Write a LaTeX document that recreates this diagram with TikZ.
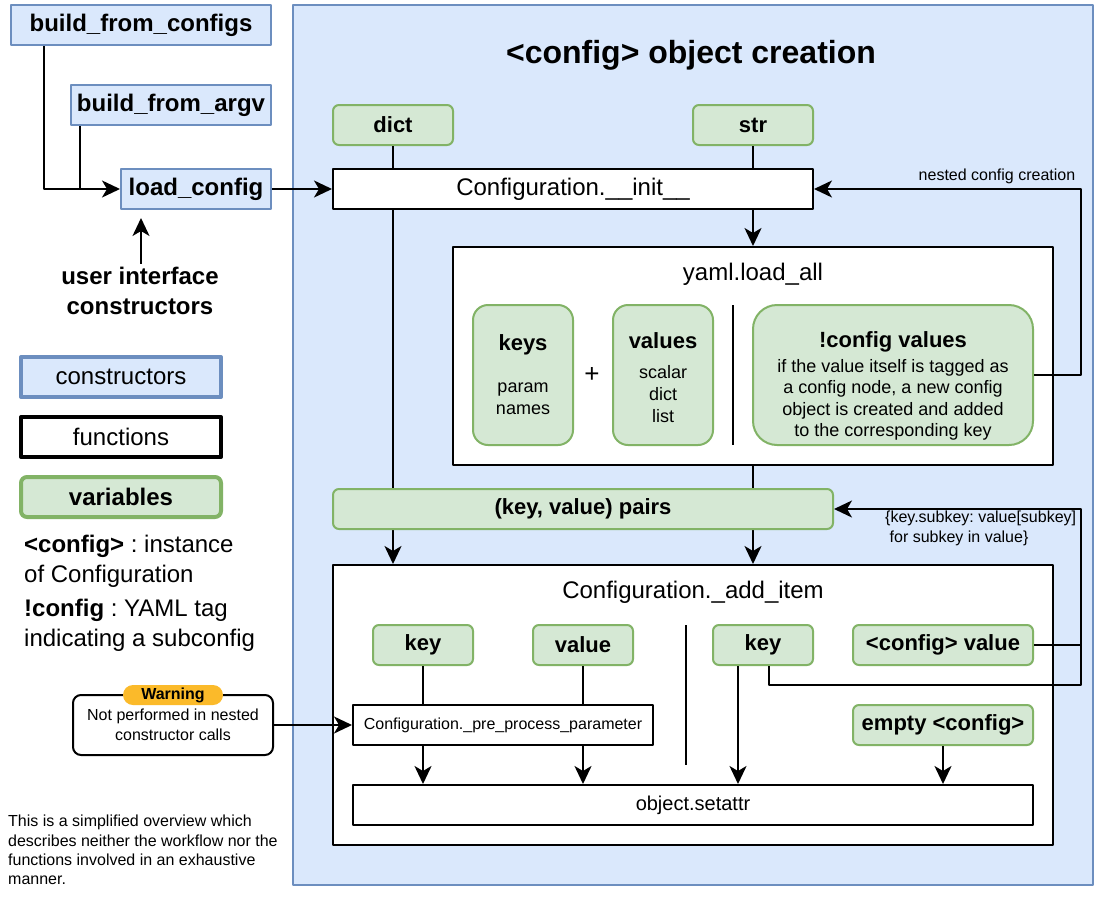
\documentclass[tikz,border=0pt]{standalone}
\usepackage{fontspec}
\setmainfont{Liberation Sans}
\usetikzlibrary{arrows.meta}
\definecolor{ctorfill}{HTML}{DAE8FC}
\definecolor{ctorline}{HTML}{6C8EBF}
\definecolor{varfill}{HTML}{D5E8D4}
\definecolor{varline}{HTML}{82B366}
\definecolor{warnfill}{HTML}{FBBA2A}
\frenchspacing
\begin{document}
\begin{tikzpicture}[>={Stealth[length=18pt,width=17pt,inset=5pt]}, x=1pt, y=-1pt, line join=round,
    ctor/.style={draw=ctorline, fill=ctorfill, line width=2pt, inner sep=0pt, font=\fontsize{24}{29}\selectfont\bfseries},
    func/.style={draw=black, fill=white, line width=2pt, inner sep=0pt, font=\fontsize{24}{29}\selectfont},
    var/.style={draw=varline, fill=varfill, line width=2pt, rounded corners=6pt, inner sep=0pt, font=\fontsize{22}{26}\selectfont\bfseries},
    link/.style={line width=2pt},
    lbl/.style={inner sep=0pt, font=\fontsize{16}{19}\selectfont}]
    \useasboundingbox (0,0) rectangle (1102,902);
    % constructors on the left
    \node[ctor, minimum width=260pt, minimum height=40pt] (bfc) at (141,25) {build\_from\_configs};
    \node[ctor, minimum width=200pt, minimum height=40pt] (bfa) at (171,105) {build\_from\_argv};
    \node[ctor, minimum width=150pt, minimum height=40pt] (lc) at (196,189) {load\_config};
    \node[inner sep=0pt, align=center, font=\fontsize{24}{30}\selectfont\bfseries] (uic) at (140,291) {user interface\\constructors};
    \draw[link,->] ([xshift=34pt]bfc.south west) |- (lc.west);
    \draw[link] ([xshift=10pt]bfa.south west) -- ([xshift=10pt]bfa.south west |- lc.west);
    \draw[link,->,shorten <=3pt,shorten >=8pt] ([xshift=1pt]uic.north) -- ([xshift=1pt]uic.north |- lc.south);
    % legend
    \node[ctor, line width=4pt, font=\fontsize{24}{29}\selectfont, minimum width=200pt, minimum height=40pt] (lgc) at (121,377) {constructors};
    \node[func, line width=4pt, minimum width=200pt, minimum height=40pt] (lgf) at (121,437) {functions};
    \node[var, line width=4pt, font=\fontsize{24}{29}\selectfont\bfseries, minimum width=200pt, minimum height=40pt] (lgv) at (121,497) {variables};
    \node[inner sep=0pt, anchor=west, align=left, font=\fontsize{24}{30}\selectfont] (defcfg) at (24,561) {{\bfseries <config>} : instance\\of Configuration};
    \node[inner sep=0pt, anchor=west, align=left, font=\fontsize{24}{30}\selectfont] (deftag) at (24,625) {{\bfseries !config} : YAML tag\\indicating a subconfig};
    % warning and note
    \node[draw, line width=2pt, fill=white, rounded corners=8pt, minimum width=200pt, minimum height=60pt, align=center, font=\fontsize{16}{20}\selectfont] (warn) at (173,725) {Not performed in nested\\constructor calls};
    \node[fill=warnfill, rounded corners=10pt, minimum width=100pt, minimum height=20pt, inner sep=0pt, font=\fontsize{16}{19}\selectfont\bfseries] (badge) at (173,695) {Warning};
    \node[inner sep=0pt, anchor=west, align=left, font=\fontsize{16}{19.3}\selectfont] (note) at (8,850) {This is a simplified overview which\\describes neither the workflow nor the\\functions involved in an exhaustive\\manner.};
    % object creation panel
    \node[draw=ctorline, fill=ctorfill, line width=2pt, minimum width=800pt, minimum height=880pt] (panel) at (693,445) {};
    \node[inner sep=0pt, font=\fontsize{32}{38}\selectfont\bfseries] (title) at (691,55) {<config> object creation};
    \node[var, minimum width=120pt, minimum height=40pt] (dict) at (393,125) {dict};
    \node[var, minimum width=120pt, minimum height=40pt] (str) at (753,125) {str};
    \node[func, minimum width=480pt, minimum height=40pt] (init) at (573,189) {Configuration.\_\_init\_\_};
    \draw[link] (dict.south) -- (dict.south |- init.north);
    \draw[link] (str.south) -- (str.south |- init.north);
    \draw[link,->] (lc.east) -- (init.west);
    % yaml.load_all
    \node[func, minimum width=600pt, minimum height=218pt] (yaml) at (753,356) {};
    \node[inner sep=0pt, font=\fontsize{24}{29}\selectfont] (yamlname) at (753,274) {yaml.load\_all};
    \draw[link,->] (yaml.north |- init.south) -- (yaml.north);
    \node[var, rounded corners=15pt, minimum width=100pt, minimum height=140pt, align=center, font=\fontsize{18}{22}\selectfont] (keys) at (523,375)
        {{\fontsize{22}{26}\selectfont\bfseries keys}\\[20pt]param\\names};
    \node[inner sep=0pt, font=\fontsize{26}{30}\selectfont] (plus) at (592,375) {+};
    \node[var, rounded corners=15pt, minimum width=100pt, minimum height=140pt] (values) at (663,375) {};
    \node[inner sep=0pt, align=center, font=\fontsize{18}{22}\selectfont] (valtext) at (663,378)
        {{\fontsize{22}{26}\selectfont\bfseries values}\\[8pt]scalar\\dict\\list};
    \draw[link] (733,305) -- (733,445);
    \node[var, rounded corners=24pt, minimum width=280pt, minimum height=140pt] (cfgvals) at (893,375) {};
    \node[inner sep=0pt, align=center, font=\fontsize{18}{21.5}\selectfont] (cfgtext) at (893,386)
        {{\fontsize{22}{26}\selectfont\bfseries !config values}\\[3pt]if the value itself is tagged as\\a config node, a new config\\object is created and added\\to the corresponding key};
    \coordinate (nest) at (1081,189);
    \draw[link,->] (cfgvals.east) -| (nest) -- (init.east);
    \node[lbl] (nestlbl) at (997,176) {nested config creation};
    % Configuration._add_item
    \node[func, minimum width=720pt, minimum height=280pt] (add) at (693,705) {};
    \node[inner sep=0pt, font=\fontsize{24}{29}\selectfont] (addname) at (693,592) {Configuration.\_add\_item};
    \draw[link,->] (dict.south |- init.south) -- (dict.south |- add.north);
    \draw[link,->] (yaml.south) -- (yaml.south |- add.north);
    \node[var, minimum width=500pt, minimum height=40pt] (pairs) at (583,509) {(key, value) pairs};
    \node[var, minimum width=100pt, minimum height=40pt] (key) at (423,645) {key};
    \node[var, minimum width=100pt, minimum height=40pt] (val) at (583,645) {value};
    \node[var, minimum width=100pt, minimum height=40pt] (subkey) at (763,645) {key};
    \node[var, minimum width=180pt, minimum height=40pt] (cval) at (943,645) {<config> value};
    \draw[link] (686,625) -- (686,765);
    \node[func, minimum width=300pt, minimum height=40pt, font=\fontsize{16}{19}\selectfont] (pre) at (503,725) {Configuration.\_pre\_process\_parameter};
    \node[var, minimum width=180pt, minimum height=40pt] (empty) at (943,725) {empty <config>};
    \node[func, minimum width=680pt, minimum height=40pt, font=\fontsize{20}{24}\selectfont] (setattr) at (693,805) {object.setattr};
    \draw[link] (key.south) -- (key.south |- pre.north);
    \draw[link] (val.south) -- (val.south |- pre.north);
    \draw[link,->] (key.south |- pre.south) -- (key.south |- setattr.north);
    \draw[link,->] (val.south |- pre.south) -- (val.south |- setattr.north);
    \draw[link,->] ([xshift=-25pt]subkey.south) -- ([xshift=-25pt]subkey.south |- setattr.north);
    \draw[link,->] (empty.south) -- (empty.south |- setattr.north);
    \draw[link,->] (warn.east) -- (pre.west);
    % nested dict flattening
    \coordinate (flatlow) at (1081,685);
    \coordinate (flattop) at (1081,509);
    \draw[link,->] ([xshift=6pt]subkey.south) |- (flatlow) -- (flattop) -- (pairs.east);
    \draw[link] (cval.east) -- (cval.east -| flatlow);
    \node[lbl, anchor=west, align=left, font=\fontsize{16}{20}\selectfont] (flatlbl) at (885,528) {\{key.subkey: value[subkey]\\\ for subkey in value\}};
\end{tikzpicture}
\end{document}
